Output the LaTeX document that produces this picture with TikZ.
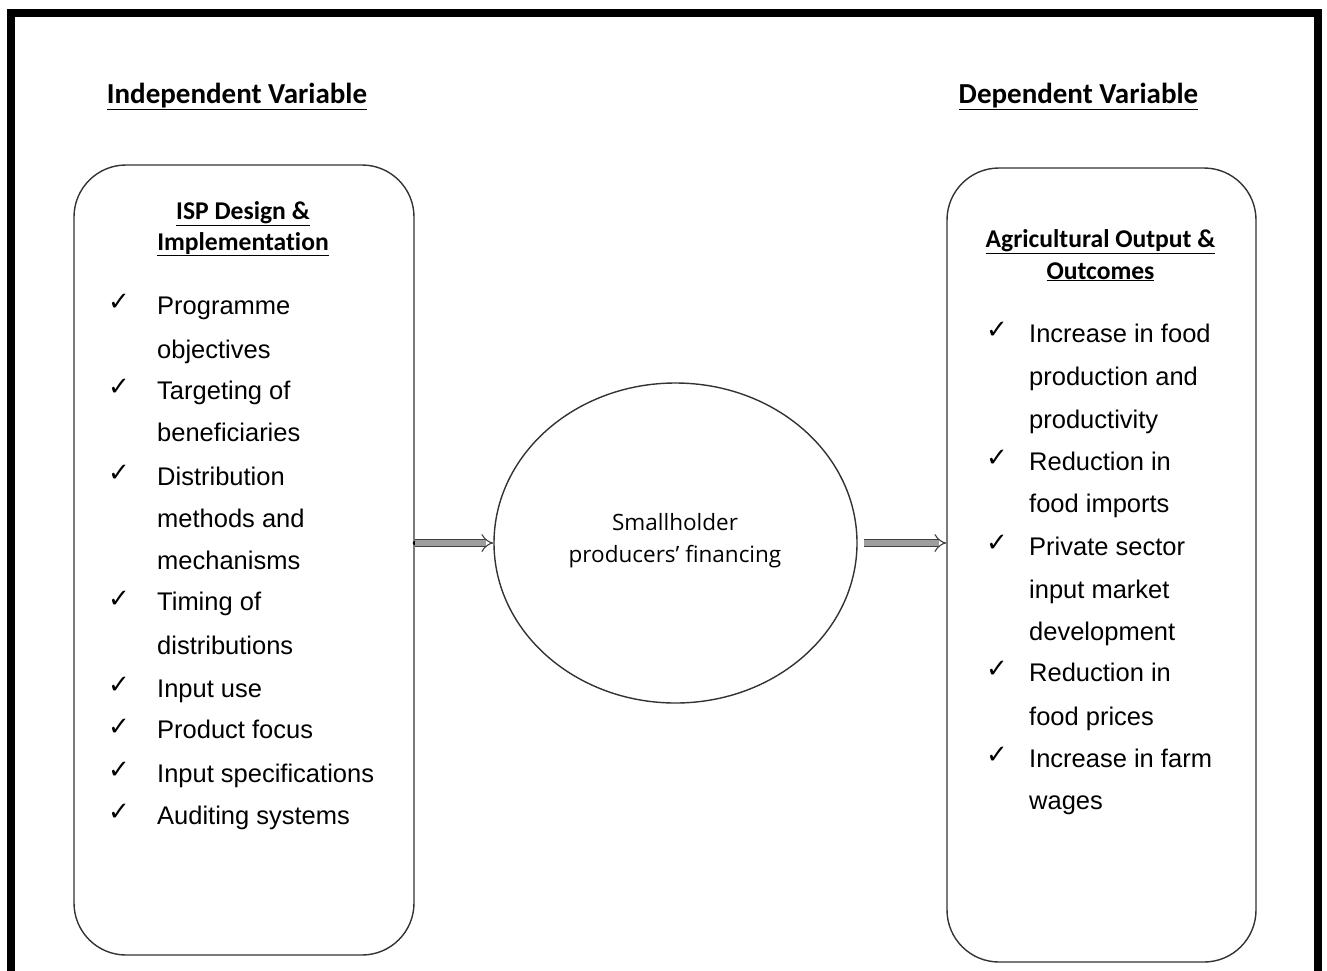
\documentclass[tikz,border=0pt]{standalone}
\usepackage{fontspec}
\setmainfont{Liberation Sans}
\newfontfamily\headfont[Ligatures=NoCommon]{Carlito}
\newfontfamily\circfont{Open Sans}
\newfontfamily\symfont{DejaVu Sans}
\usetikzlibrary{arrows.meta,shapes.geometric}
\tikzset{
  frame/.style={line width=8pt, black},
  panel/.style={draw=black!80, line width=1.4pt, rounded corners=52pt, inner sep=0pt},
  hub/.style={draw=black!80, line width=1.4pt, ellipse, inner sep=0pt},
  vartitle/.style={anchor=base, inner sep=0pt, font=\headfont\bfseries\fontsize{29}{34}\selectfont},
  boxtitle/.style={anchor=base, inner sep=0pt, font=\headfont\bfseries\fontsize{25.6}{30}\selectfont},
  item/.style={anchor=base west, inner sep=0pt, font=\fontsize{25.5}{30}\selectfont},
  tick/.style={anchor=base west, inner sep=0pt, font=\symfont\fontsize{26}{31}\selectfont},
  hubtext/.style={anchor=base, inner sep=0pt, font=\circfont\fontsize{22.5}{27}\selectfont},
  link/.style={draw=black!75, line width=1.1pt, double=black!38, double distance=5.2pt,
               -{Implies[length=5pt]}}
}
\begin{document}
\begin{tikzpicture}[x=1pt,y=-1pt]
\useasboundingbox (0,0) rectangle (1327,970);
\clip (0,0) rectangle (1327,970);
\fill[white] (0,0) rectangle (1327,970);
% outer frame
\draw[frame] (11,13) rectangle (1318,990);

% column headings
\node[vartitle] (indep) at (237,103) {\underline{Independent Variable}};
\node[vartitle] (dep) at (1078.5,103) {\underline{Dependent Variable}};

% the two panels and the central ellipse
\node[panel, minimum width=340pt, minimum height=790pt] (lbox) at (244,560) {};
\node[panel, minimum width=309pt, minimum height=794pt] (rbox) at (1101.5,565) {};
\node[hub, minimum width=363pt, minimum height=320pt] (circ) at (675.5,543) {};

% panel titles
\node[boxtitle] (lt1) at (243,219) {\underline{ISP Design \&}};
\node[boxtitle] (lt2) at (243,250) {\underline{Implementation}};
\node[boxtitle] (rt1) at (1100.5,247) {\underline{Agricultural Output \&}};
\node[boxtitle] (rt2) at (1100.5,279) {\underline{Outcomes}};

% left list
\foreach \y/\t [count=\i] in {305/Programme, 349/objectives, 390/Targeting of,
    432/beneficiaries, 476/Distribution, 518/methods and, 560/mechanisms,
    601/Timing of, 645/distributions, 688/Input use, 729/Product focus,
    773/Input specifications, 815/Auditing systems}
  \node[item] (L\i) at (157,\y+9) {\t};
\foreach \y [count=\i] in {302,387,473,599,685,727,770,812}
  \node[tick] (LC\i) at (108,\y+8) {✓};

% right list
\foreach \y/\t [count=\i] in {333/Increase in food, 376/production and,
    419/productivity, 461/Reduction in, 503/food imports, 546/Private sector,
    589/input market, 631/development, 672/Reduction in, 716/food prices,
    758/Increase in farm, 800/wages}
  \node[item] (R\i) at (1029,\y+9) {\t};
\foreach \y [count=\i] in {330,458,543,669,755}
  \node[tick] (RC\i) at (986,\y+8) {✓};

% text in the ellipse
\node[hubtext] (h1) at (675,530) {Smallholder};
\node[hubtext] (h2) at (675,562) {producers’ financing};

% connectors
\fill[black] (circ.west -| lbox.east) circle (2pt);
\draw[link] (circ.west -| lbox.east) -- (circ.west);
\draw[link, shorten <=6pt] (circ.east) -- (circ.east -| rbox.west);
\end{tikzpicture}
\end{document}
